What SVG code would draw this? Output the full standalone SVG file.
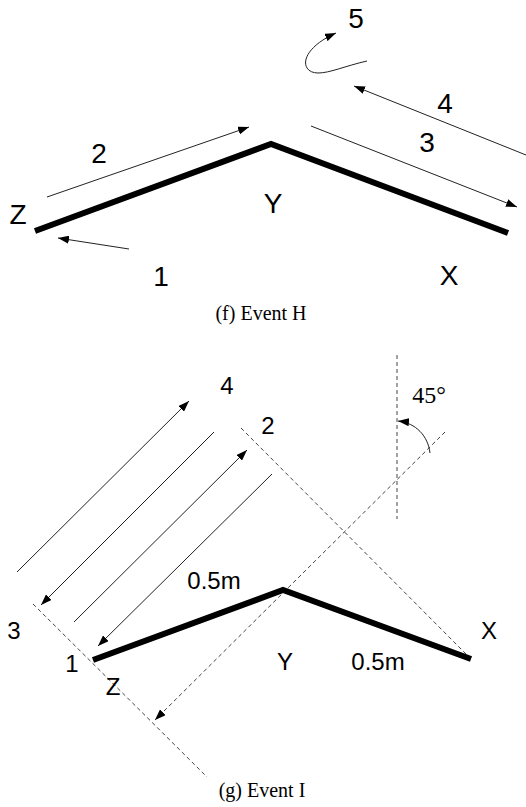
<svg xmlns="http://www.w3.org/2000/svg" width="526" height="807" viewBox="0 0 526 807">
<style>
.lbl{font-family:"Liberation Sans",Arial,sans-serif;fill:#000;text-anchor:middle}
.big{font-size:28px}
.sm{font-size:24px}
.cap{font-family:"Liberation Serif","Times New Roman",serif;font-size:20px;fill:#000;text-anchor:middle}
.beam{fill:none;stroke:#000;stroke-width:6;stroke-linejoin:miter}
.thin{fill:none;stroke:#222;stroke-width:1}
.dash{fill:none;stroke:#444;stroke-width:1;stroke-dasharray:4 3}
</style>
<defs>
<marker id="ah" markerUnits="userSpaceOnUse" markerWidth="11" markerHeight="8" refX="11" refY="4" orient="auto">
<path d="M0,0 L11,4 L0,8 z" fill="#000"/>
</marker>
</defs>
<rect width="526" height="807" fill="#fff"/>

<g id="event-h">
<g id="h-beam"><polyline class="beam" points="35,231 271,144 508,233"/></g>
<g id="h-labels">
<text class="lbl big" x="18" y="224">Z</text>
<text class="lbl big" x="273" y="213">Y</text>
<text class="lbl big" x="449" y="285">X</text>
<text class="lbl big" x="161" y="286">1</text>
<text class="lbl big" x="99" y="163">2</text>
<text class="lbl big" x="427" y="152">3</text>
<text class="lbl big" x="445" y="113">4</text>
<text class="lbl big" x="356" y="28">5</text>
</g>
<g id="h-connectors">
<line class="thin" x1="129" y1="249" x2="58" y2="238" marker-end="url(#ah)"/>
<line class="thin" x1="47" y1="197" x2="249" y2="127" marker-end="url(#ah)"/>
<line class="thin" x1="311" y1="126" x2="517" y2="207" marker-end="url(#ah)"/>
<line class="thin" x1="526" y1="155" x2="354" y2="86" marker-end="url(#ah)"/>
<path class="thin" d="M367,61 C345,66 330,73 318,73 C300,73 298,50 336,33" marker-end="url(#ah)"/>
</g>
<text class="cap" x="261" y="320">(f) Event H</text>
</g>

<g id="event-i">
<g id="i-guides">
<line class="dash" x1="397" y1="355" x2="397" y2="519"/>
<line class="dash" x1="241" y1="428" x2="467" y2="655"/>
<line class="dash" x1="33" y1="604" x2="207" y2="777"/>
<line class="dash" x1="445" y1="432" x2="155" y2="720" marker-end="url(#ah)"/>
</g>
<g id="i-beam"><polyline class="beam" points="93,660 283,590 471,659"/></g>
<g id="i-connectors">
<line class="thin" x1="17" y1="572" x2="189" y2="401" marker-end="url(#ah)"/>
<line class="thin" x1="214" y1="432" x2="41" y2="605" marker-end="url(#ah)"/>
<line class="thin" x1="74" y1="622" x2="247" y2="450" marker-end="url(#ah)"/>
<line class="thin" x1="272" y1="474" x2="98" y2="646" marker-end="url(#ah)"/>
<path class="thin" d="M430,453 C428,436 416,423 398,421" marker-end="url(#ah)"/>
</g>
<g id="i-labels">
<text class="lbl sm" x="227" y="394">4</text>
<text class="lbl sm" x="268" y="434">2</text>
<text class="lbl sm" x="14" y="639">3</text>
<text class="lbl sm" x="72" y="672">1</text>
<text class="lbl sm" x="113" y="695">Z</text>
<text class="lbl sm" x="285" y="670">Y</text>
<text class="lbl sm" x="489" y="639">X</text>
<text class="lbl sm" x="214" y="589">0.5m</text>
<text class="lbl sm" x="378" y="670">0.5m</text>
<text class="cap" x="429" y="403" style="font-size:24px">45°</text>
</g>
<text class="cap" x="262" y="797">(g) Event I</text>
</g>
</svg>
